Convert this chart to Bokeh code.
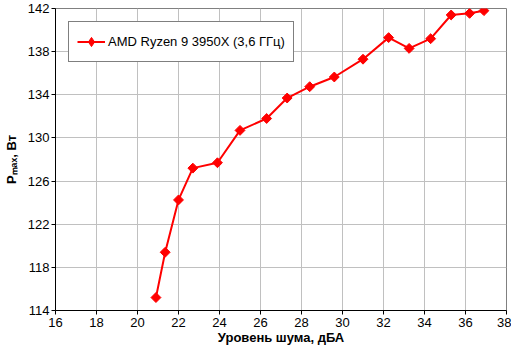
import numpy as np
from bokeh.plotting import figure
from bokeh.models import Legend, LegendItem, FixedTicker
from bokeh.embed import file_html
from bokeh.resources import INLINE

noise_dba = [20.9, 21.35, 22.0, 22.7, 23.9, 25.0, 26.3, 27.3, 28.4, 29.6, 31.0, 32.25, 33.25, 34.3, 35.3, 36.2, 36.9]
pmax_w = [115.2, 119.4, 124.25, 127.2, 127.7, 130.7, 131.8, 133.7, 134.75, 135.65, 137.3, 139.3, 138.3, 139.2, 141.4, 141.55, 141.8]
series_name = "AMD Ryzen 9 3950X (3,6 ГГц)"
x_ticks = list(range(16, 39, 2))
y_ticks = list(range(114, 143, 4))

FONT = "Liberation Sans"

p = figure(width=511, height=347, x_range=(16, 38), y_range=(114, 142),
           output_backend="svg", toolbar_location=None,
           min_border_left=6, min_border_right=5, min_border_top=8, min_border_bottom=0)

p.background_fill_color = "white"
p.border_fill_color = "white"
p.outline_line_color = "#808080"
p.outline_line_width = 1

p.xaxis.ticker = FixedTicker(ticks=x_ticks)
p.yaxis.ticker = FixedTicker(ticks=y_ticks)
p.xgrid.grid_line_color = "#c0c0c0"
p.ygrid.grid_line_color = "#c0c0c0"

for ax in (p.xaxis[0], p.yaxis[0]):
    ax.axis_line_color = "black"
    ax.axis_line_width = 1
    ax.major_tick_line_color = "black"
    ax.major_tick_in = 0
    ax.major_tick_out = 4
    ax.minor_tick_line_color = None
    ax.major_label_text_font = FONT
    ax.major_label_text_font_size = "13px"
    ax.major_label_text_color = "black"
    ax.axis_label_text_font = FONT
    ax.axis_label_text_font_size = "13px"
    ax.axis_label_text_font_style = "bold"
    ax.axis_label_text_color = "black"

p.xaxis.major_label_standoff = 3
p.yaxis.major_label_standoff = 2
p.xaxis.axis_label = "Уровень шума, дБА"
p.yaxis.axis_label = "Pₘₐₓ, Вт"
p.xaxis.axis_label_standoff = 0
p.yaxis.axis_label_standoff = 6

ln = p.line(noise_dba, pmax_w, line_color="#ff0000", line_width=2)
mk = p.scatter(noise_dba, pmax_w, marker="square", angle=np.pi / 4, size=7,
               fill_color="#ff0000", line_color="#ff0000")
# legend swatch marker (the legend does not rotate markers); no visible points
mk_legend = p.scatter(x=[np.nan], y=[np.nan], marker="diamond", size=12,
                      fill_color="#ff0000", line_color="#ff0000")

legend = Legend(items=[LegendItem(label=series_name, renderers=[ln, mk_legend])],
                location="top_left", margin=13, padding=8,
                border_line_color="black", border_line_width=1,
                background_fill_color="white", background_fill_alpha=1,
                label_text_font=FONT, label_text_font_size="13px",
                label_text_color="black", glyph_width=28, glyph_height=23,
                label_height=23, label_standoff=3)
p.add_layout(legend, "center")

open("out.html", "w").write(file_html(p, INLINE))
